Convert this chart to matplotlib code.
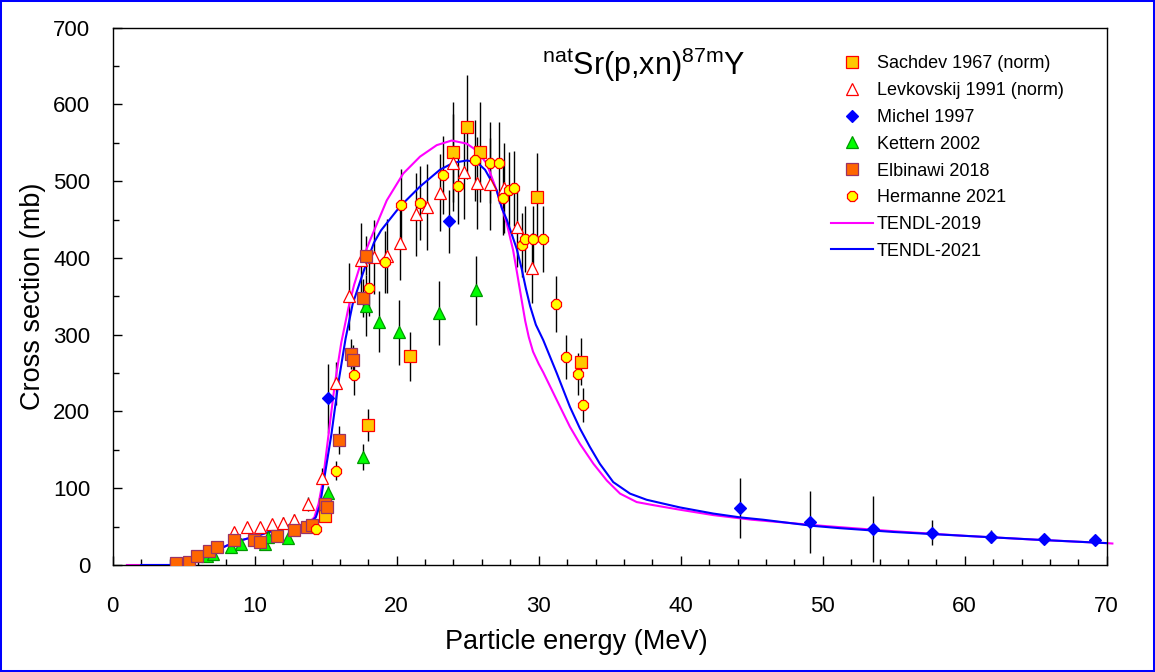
import matplotlib

matplotlib.use("Agg")
import matplotlib.pyplot as plt
from matplotlib.lines import Line2D
from matplotlib.patches import Rectangle

plt.rcParams["font.family"] = ["Liberation Sans", "DejaVu Sans"]
plt.rcParams["mathtext.fontset"] = "custom"
plt.rcParams["mathtext.rm"] = "Liberation Sans"
plt.rcParams["mathtext.it"] = "Liberation Sans:italic"

# --- experimental data (energy MeV, cross section mb, error mb) ---
sachdev_e = [14.95, 18.0, 20.95, 24.0, 24.95, 25.9, 29.9, 33.0]
sachdev_s = [64, 182, 272, 538, 571, 538, 480, 265]
sachdev_d = [8, 21, 32, 65, 68, 65, 57, 31]

levk_e = [8.56, 9.46, 10.37, 11.22, 12.0, 12.77, 13.78, 14.75, 15.73, 16.66,
          17.49, 18.38, 19.3, 20.25, 21.36, 22.1, 23.07, 23.94, 24.76, 25.68,
          26.57, 27.58, 28.5, 29.5]
levk_s = [43, 49, 49, 53, 55, 59, 80, 113, 237, 350,
          397, 401, 403, 419, 457, 467, 485, 524, 512, 498,
          496, 491, 441, 387]
levk_d = [5, 6, 6, 6, 7, 7, 9, 13, 28, 44,
          48, 48, 48, 48, 54, 56, 50, 63, 61, 60,
          60, 59, 53, 46]

michel_e = [15.19, 23.71, 44.2, 49.1, 53.56, 57.7, 61.84, 65.6, 69.2]
michel_s = [217, 448, 74, 56, 47, 42, 37, 34, 33]
michel_d = [45, 41, 39, 41, 43, 16, 8, 5, 5]

kettern_e = [4.44, 6.62, 7.09, 8.33, 9.0, 10.73, 10.93, 12.37, 15.18, 17.65,
             17.84, 18.78, 20.18, 23.0, 25.6]
kettern_s = [1, 12, 14, 24, 28, 27, 36, 35, 94, 141,
             338, 317, 303, 328, 358]
kettern_d = [0.2, 1, 1.5, 2.5, 3, 3, 3.5, 3.5, 9, 17,
             40, 40, 42, 42, 45]

elbin_e = [4.46, 5.35, 5.91, 6.78, 7.32, 8.54, 9.95, 10.37, 11.57, 12.77,
           13.7, 14.03, 14.93, 15.11, 15.94, 16.76, 16.94, 17.6, 17.84]
elbin_s = [3, 4.3, 12, 18, 23, 32, 33, 30, 38, 46,
           50, 52, 79, 75, 163, 275, 267, 348, 403]
elbin_d = [0.3, 0.4, 1, 1.5, 2, 2.5, 2.5, 2.5, 3, 3.5,
           4, 4, 6, 6, 18, 20, 20, 25, 25]

herm_e = [14.32, 15.73, 16.99, 18.04, 19.18, 20.3, 21.64, 23.24, 24.32, 25.51,
          26.57, 27.18, 27.46, 27.9, 28.28, 28.8, 29.04, 29.6, 30.3, 31.22,
          31.92, 32.77, 33.12]
herm_s = [47, 123, 247, 361, 395, 469, 472, 508, 494, 527,
          524, 524, 478, 489, 491, 417, 425, 425, 425, 340,
          271, 249, 208]
herm_d = [5, 12, 25, 36, 40, 47, 48, 51, 50, 53,
          53, 53, 48, 49, 49, 42, 43, 43, 43, 37,
          29, 27, 22]

# --- TENDL model curves ---
t19_e = [1, 4, 5, 6, 7, 8, 9, 10, 11, 12, 13, 13.8, 14.2, 14.5, 14.8, 15.2,
         15.65, 16.1, 16.6, 17.0, 17.42, 18.12, 19.3, 20.46, 21.64, 22.82,
         23.87, 24.93, 25.63, 26.34, 27.04, 27.75, 28.2, 28.5, 28.8, 29.05,
         29.3, 29.6, 30.0, 30.32, 31.27, 32.2, 32.9, 33.85, 34.8, 35.73, 36.9,
         38.07, 39.95, 42.3, 45, 50, 55, 60, 65, 70, 70.4]
t19_s = [0, 0, 2, 8, 16, 25, 32, 37, 43, 47, 51, 55, 62, 80, 110, 170,
         237, 290, 335, 365, 390, 423, 475, 510, 532, 547,
         553, 549, 540, 523, 488, 445, 410, 378, 345, 318,
         297, 278, 262, 251, 215, 180, 158, 132, 110, 93, 82,
         78, 72, 65, 59, 51, 44, 38, 33, 28.5, 28]

t21_e = [2, 4, 5, 6, 7, 8, 9, 10, 11, 12, 13, 13.9, 14.3, 14.6, 14.9, 15.4,
         15.89, 16.4, 16.9, 17.4, 17.9, 18.4, 18.9, 19.5, 20.23, 21.64, 23.05,
         23.99, 24.93, 25.63, 26.22, 27.04, 27.4, 27.75, 28.45, 28.8, 29.1,
         29.4, 29.8, 30.32, 31.27, 32.2, 32.9, 33.6, 34.3, 35.25, 36.43, 37.6,
         38.77, 39.95, 42.3, 44.2, 45.8, 49.3, 51.2, 55, 60, 65, 70]
t21_s = [0, 0, 2, 8, 16, 25, 32, 37, 43, 47, 51, 55, 62, 78, 113, 170,
         237, 295, 340, 368, 395, 420, 436, 450, 467, 493, 515,
         524, 527, 525, 515, 488, 465, 450, 412, 386, 360,
         337, 313, 293, 250, 206, 178, 154, 132, 108, 93, 85,
         80, 75, 67, 62, 59, 51, 48, 43, 38, 33, 28.5]

W, H = 1155, 672
fig = plt.figure(figsize=(W / 100, H / 100), dpi=100)
ax = fig.add_axes([112.7 / W, 1 - 565 / H, 994 / W, 537.3 / H])

ax.plot(t19_e, t19_s, color="#ff00ff", lw=1.5, zorder=2.5, clip_on=False)
ax.plot(t21_e, t21_s, color="#0000ff", lw=1.5, zorder=2.6)

series = [
    ("Sachdev 1967 (norm)", sachdev_e, sachdev_s, sachdev_d,
     dict(marker="s", ms=8, mfc="#ffc800", mec="#ff0000")),
    ("Levkovskij 1991 (norm)", levk_e, levk_s, levk_d,
     dict(marker="^", ms=8.5, mfc="white", mec="#ff0000")),
    ("Michel 1997", michel_e, michel_s, michel_d,
     dict(marker="D", ms=6.3, mfc="#0000ff", mec="#0000ff")),
    ("Kettern 2002", kettern_e, kettern_s, kettern_d,
     dict(marker="^", ms=8.5, mfc="#00ff00", mec="#009900")),
    ("Elbinawi 2018", elbin_e, elbin_s, elbin_d,
     dict(marker="s", ms=8.5, mfc="#ff6600", mec="#993366")),
    ("Hermanne 2021", herm_e, herm_s, herm_d,
     dict(marker="8", ms=8.5, mfc="#ffff00", mec="#ff0000")),
]

handles = []
for i, (label, e, s, d, st) in enumerate(series):
    ax.errorbar(e, s, yerr=d, fmt="none", ecolor="black", elinewidth=1.0,
                capsize=0, zorder=2)
    ax.plot(e, s, ls="none", mew=0.9, zorder=3 + i * 0.1, **st)
    handles.append(Line2D([], [], ls="none", mew=0.9, label=label, **st))

handles.append(Line2D([], [], color="#ff00ff", lw=1.5, label="TENDL-2019"))
handles.append(Line2D([], [], color="#0000ff", lw=1.5, label="TENDL-2021"))

ax.set_xlim(0, 70)
ax.set_ylim(0, 700)
ax.set_xticks(range(0, 71, 10))
ax.set_xticks(range(0, 71, 2), minor=True)
ax.set_yticks(range(0, 701, 100))
ax.set_yticks(range(0, 701, 50), minor=True)
ax.tick_params(which="both", direction="in", top=False, right=False,
               width=1.0, labelsize=16)
ax.tick_params(which="major", length=6.5)
ax.tick_params(which="minor", length=4.5)
ax.tick_params(axis="x", which="major", pad=22)
ax.tick_params(axis="y", which="major", pad=16)
for sp in ax.spines.values():
    sp.set_linewidth(1.0)

ax.set_xlabel("Particle energy (MeV)", fontsize=19.5)
ax.xaxis.label.set_va("baseline")
ax.xaxis.set_label_coords((576.7 - 112.7) / 994, (565 - 649.3) / 537.3)
ax.set_ylabel("Cross section (mb)", fontsize=19.5)
ax.yaxis.label.set_va("center")
ax.yaxis.set_label_coords((33.3 - 112.7) / 994, 0.5)

fig.text(541.7 / W, 1 - 75 / H, r"$^{\mathrm{nat}}$Sr(p,xn)$^{\mathrm{87m}}$Y",
         fontsize=22, ha="left", va="baseline")

fig.legend(handles=handles, loc="upper left",
           bbox_to_anchor=(831 / W, 1 - 55.5 / H), frameon=False,
           fontsize=13, handlelength=2.3, handletextpad=0.25,
           labelspacing=0.54, borderpad=0, borderaxespad=0)

fig.patches.append(Rectangle((0, 0), 1, 1, transform=fig.transFigure,
                             fill=False, ec="#0000ff", lw=2.9))

fig.savefig("out.png", dpi=100)
